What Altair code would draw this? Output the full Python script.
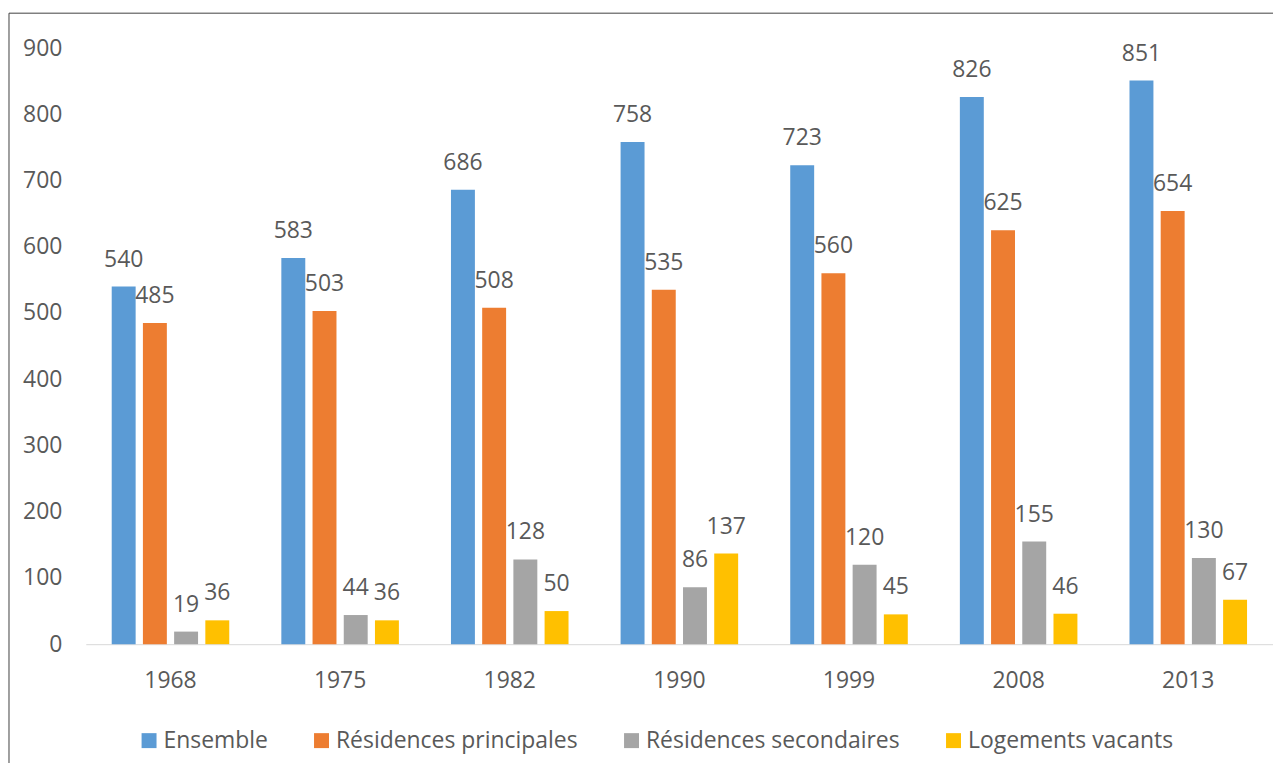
import altair as alt
import pandas as pd

years = ["1968", "1975", "1982", "1990", "1999", "2008", "2013"]
series = ["Ensemble", "Résidences principales", "Résidences secondaires", "Logements vacants"]
ensemble = [540, 583, 686, 758, 723, 826, 851]
principales = [485, 503, 508, 535, 560, 625, 654]
secondaires = [19, 44, 128, 86, 120, 155, 130]
vacants = [36, 36, 50, 137, 45, 46, 67]
colors = ["#5B9BD5", "#ED7D31", "#A5A5A5", "#FFC000"]
y_ticks = [0, 100, 200, 300, 400, 500, 600, 700, 800, 900]

rows = []
for s, vals in zip(series, [ensemble, principales, secondaires, vacants]):
    for yr, v in zip(years, vals):
        rows.append({"year": yr, "series": s, "value": v})
df = pd.DataFrame(rows)

FONT = "Open Sans"
GREY = "#595959"

x = alt.X("year:N", sort=years,
          scale=alt.Scale(paddingInner=0.307, paddingOuter=0.153),
          axis=alt.Axis(title=None, labelAngle=0, ticks=False, domainColor="#D9D9D9",
                        domainWidth=1, labelPadding=25, labelFontSize=23,
                        labelColor=GREY, labelFont=FONT))
xo = alt.XOffset("series:N", sort=series, scale=alt.Scale(paddingInner=0.233, paddingOuter=0))
y = alt.Y("value:Q", scale=alt.Scale(domain=[0, 900], nice=False),
          axis=alt.Axis(title=None, values=y_ticks, grid=False, domain=False, ticks=False,
                        labelPadding=24, labelFontSize=23, labelColor=GREY, labelFont=FONT))

bars = alt.Chart(df).mark_bar().encode(
    x=x, xOffset=xo, y=y,
    color=alt.Color("series:N", sort=series,
                    scale=alt.Scale(domain=series, range=colors),
                    legend=alt.Legend(title=None, orient="none", legendX=52, legendY=683,
                                      direction="horizontal", symbolType="square",
                                      symbolSize=225, symbolStrokeWidth=0,
                                      labelFontSize=23, labelColor=GREY, labelFont=FONT,
                                      labelLimit=0, columnPadding=42, labelOffset=3,
                                      padding=0))
)

labels = alt.Chart(df).mark_text(baseline="alphabetic", dy=-20, fontSize=23,
                                 color=GREY, font=FONT).encode(
    x=x, xOffset=xo, y=y, text="value:Q"
)

frame_df = pd.DataFrame({"k": [0]})
top_line = alt.Chart(frame_df).mark_rule(color="#404040", strokeWidth=1, clip=False).encode(
    x=alt.value(-77), x2=alt.value(1200), y=alt.value(-35)
)
left_line = alt.Chart(frame_df).mark_rule(color="#404040", strokeWidth=1, clip=False).encode(
    x=alt.value(-77), y=alt.value(-35), y2=alt.value(730)
)

chart = alt.layer(bars, labels, top_line, left_line).properties(
    width=1191, height=598,
    padding={"left": 78, "top": 39, "right": 0, "bottom": 118},
    autosize=alt.AutoSizeParams(type="none"),
).configure_view(stroke=None)

chart.save("out.html", embed_options={"renderer": "svg", "actions": False})
